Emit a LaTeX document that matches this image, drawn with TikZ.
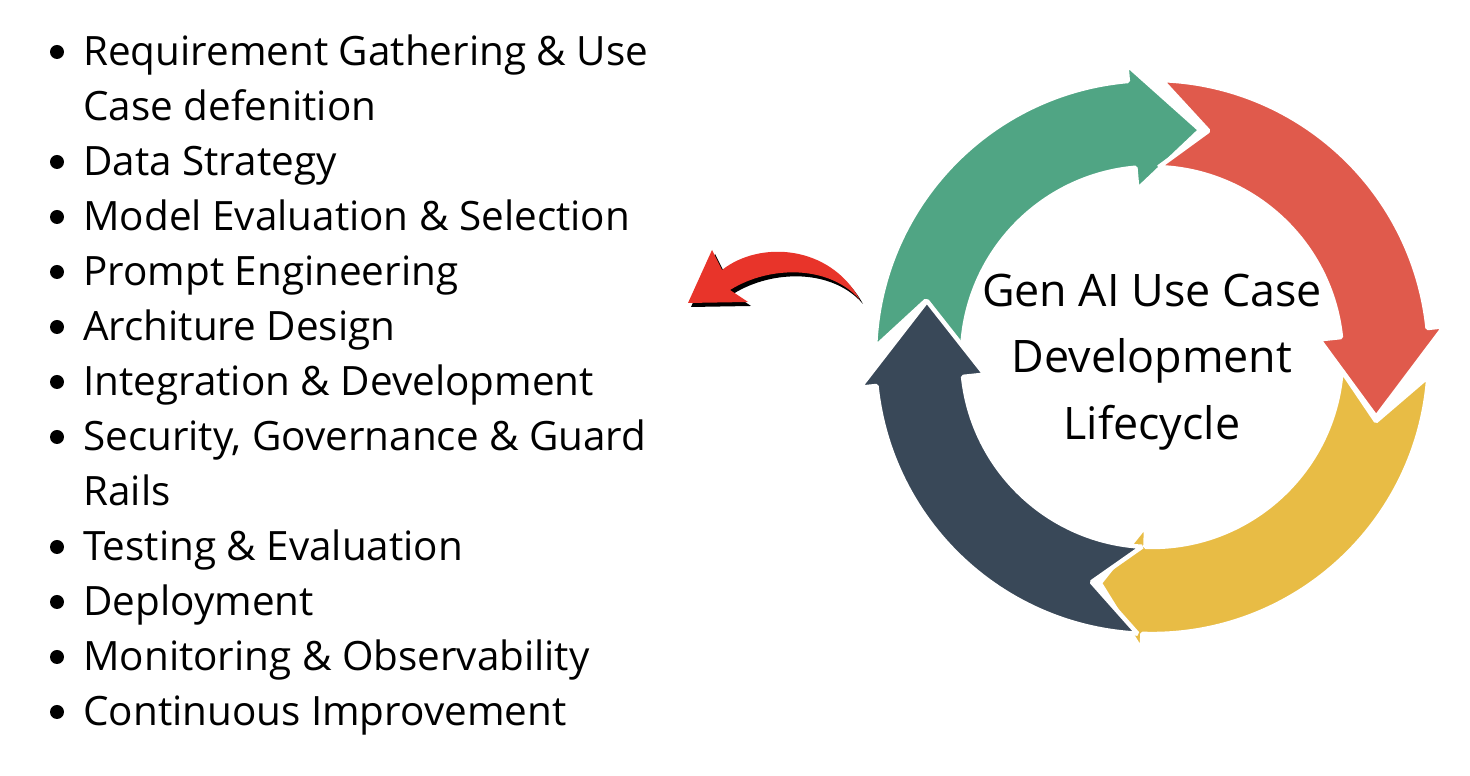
\documentclass[tikz,border=0pt]{standalone}
\usepackage{fontspec}
\setmainfont{Open Sans}
\definecolor{cgreen}{HTML}{50A584}
\definecolor{cred}{HTML}{E05A4C}
\definecolor{cyellow}{HTML}{E8BC45}
\definecolor{cdark}{HTML}{394858}
\definecolor{cbright}{HTML}{E8342A}
% ring arrow: colour, start, head base, tip
\newcommand{\ringarrow}[4]{%
  \filldraw[fill=#1, draw=white, line width=2.5pt, line join=bevel]
    (#2:277) arc[start angle=#2, end angle=#3, radius=277]
    -- (#3:294) -- (#4:232) -- (#3:168) -- (#3:190)
    arc[start angle=#3, end angle=#2, radius=190]
    -- ({#2-12}:233) -- cycle;
}
\newcommand{\pointer}{(860,476) .. controls (830,531) and (760,536) .. (722,506)
    -- (712,526) -- (688,473) -- (748,474) -- (730,486)
    .. controls (770,511) and (830,511) .. (860,476) -- cycle}
\begin{document}
\begin{tikzpicture}[x=0.02cm, y=0.02cm, item/.style={anchor=base west, inner sep=0pt, font=\fontsize{23}{27}\selectfont}]
  \useasboundingbox (0,0) rectangle (1470,776);
  \fill[white] (0,0) rectangle (1470,776);
  % list
  \foreach \i/\t/\b in {1/Requirement Gathering \& Use/1, 2/Case defenition/0, 3/Data Strategy/1,
      4/Model Evaluation \& Selection/1, 5/Prompt Engineering/1, 6/Architure Design/1,
      7/Integration \& Development/1, 8/{Security, Governance \& Guard}/1, 9/Rails/0,
      10/Testing \& Evaluation/1, 11/Deployment/1, 12/Monitoring \& Observability/1,
      13/Continuous Improvement/1}
  {
    \node[item] (l\i) at (83, {776-66-55*(\i-1)}) {\t};
    \ifnum\b=1 \fill (57, {776-52-55*(\i-1)}) circle (7); \fi
  }
  % cycle
  \begin{scope}[shift={(1152,419)}]
    \ringarrow{cgreen}{178}{95}{78}
    \ringarrow{cred}{88}{6}{-15}
    \ringarrow{cyellow}{-4}{-92}{-103}
    \ringarrow{cdark}{-93}{-174}{-194}
    \node[align=center, font=\fontsize{25.5}{38}\selectfont] (title) at (0,-5) {Gen AI Use Case\\Development\\Lifecycle};
  \end{scope}
  % pointer arrow
  \fill[black, shift={(3,-4)}] \pointer;
  \fill[cbright] \pointer;
\end{tikzpicture}
\end{document}
